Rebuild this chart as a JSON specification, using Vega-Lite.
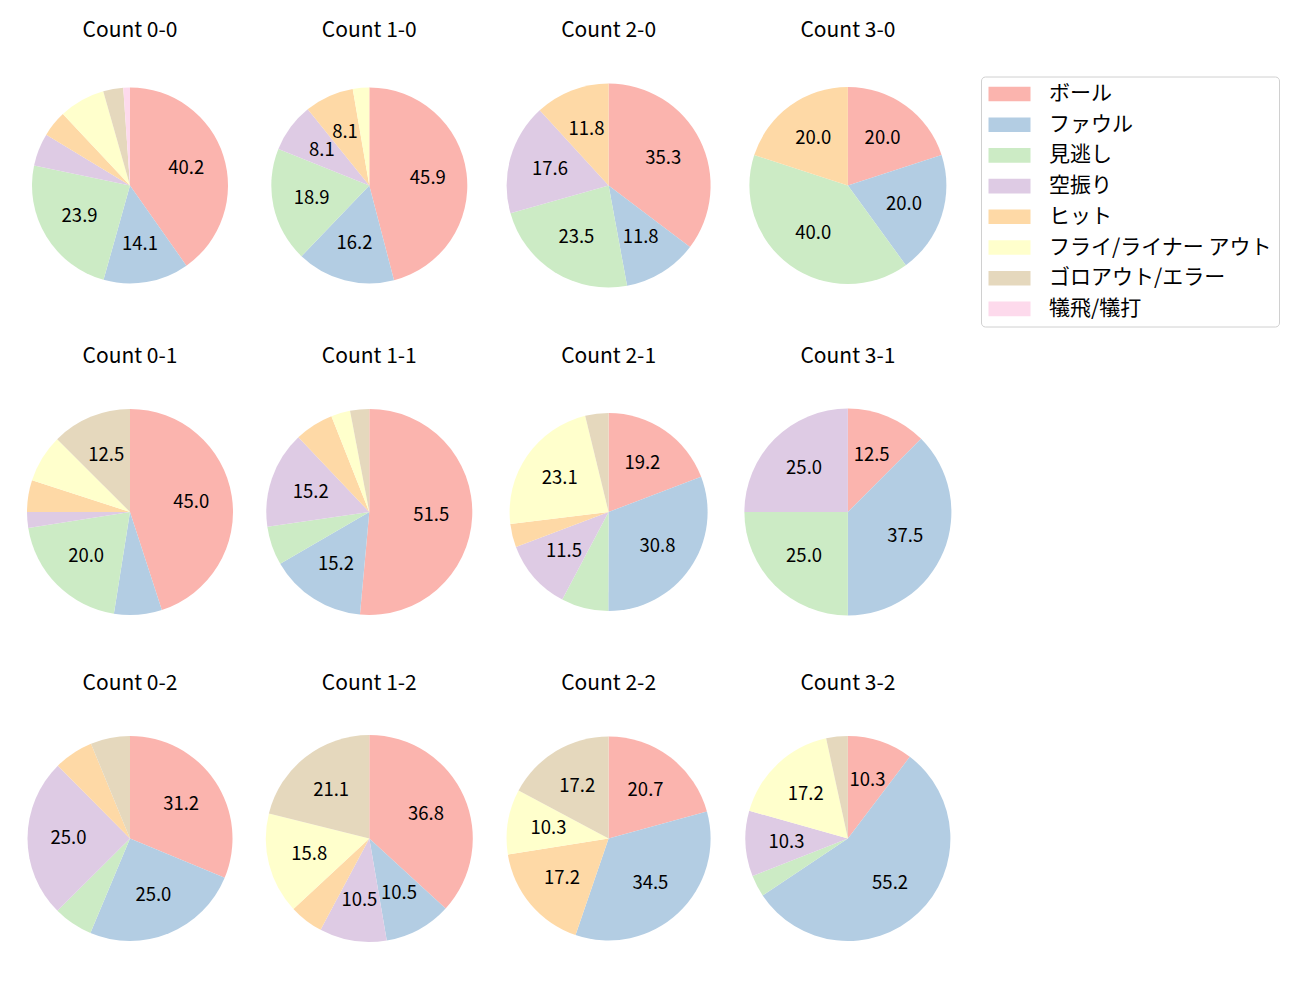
{
  "$schema": "https://vega.github.io/schema/vega-lite/v6.json",
  "padding": {"left": 25, "top": 19.5, "right": 0, "bottom": 0},
  "background": "white",
  "data": {"values": [
    {"c": "0-0", "k": 0, "cat": "ボール", "p": 40.2},
    {"c": "0-0", "k": 1, "cat": "ファウル", "p": 14.1},
    {"c": "0-0", "k": 2, "cat": "見逃し", "p": 23.9},
    {"c": "0-0", "k": 3, "cat": "空振り", "p": 5.4},
    {"c": "0-0", "k": 4, "cat": "ヒット", "p": 4.3},
    {"c": "0-0", "k": 5, "cat": "フライ/ライナー アウト", "p": 7.6},
    {"c": "0-0", "k": 6, "cat": "ゴロアウト/エラー", "p": 3.3},
    {"c": "0-0", "k": 7, "cat": "犠飛/犠打", "p": 1.1},
    {"c": "1-0", "k": 0, "cat": "ボール", "p": 45.9},
    {"c": "1-0", "k": 1, "cat": "ファウル", "p": 16.2},
    {"c": "1-0", "k": 2, "cat": "見逃し", "p": 18.9},
    {"c": "1-0", "k": 3, "cat": "空振り", "p": 8.1},
    {"c": "1-0", "k": 4, "cat": "ヒット", "p": 8.1},
    {"c": "1-0", "k": 5, "cat": "フライ/ライナー アウト", "p": 2.7},
    {"c": "2-0", "k": 0, "cat": "ボール", "p": 35.3},
    {"c": "2-0", "k": 1, "cat": "ファウル", "p": 11.8},
    {"c": "2-0", "k": 2, "cat": "見逃し", "p": 23.5},
    {"c": "2-0", "k": 3, "cat": "空振り", "p": 17.6},
    {"c": "2-0", "k": 4, "cat": "ヒット", "p": 11.8},
    {"c": "3-0", "k": 0, "cat": "ボール", "p": 20.0},
    {"c": "3-0", "k": 1, "cat": "ファウル", "p": 20.0},
    {"c": "3-0", "k": 2, "cat": "見逃し", "p": 40.0},
    {"c": "3-0", "k": 4, "cat": "ヒット", "p": 20.0},
    {"c": "0-1", "k": 0, "cat": "ボール", "p": 45.0},
    {"c": "0-1", "k": 1, "cat": "ファウル", "p": 7.5},
    {"c": "0-1", "k": 2, "cat": "見逃し", "p": 20.0},
    {"c": "0-1", "k": 3, "cat": "空振り", "p": 2.5},
    {"c": "0-1", "k": 4, "cat": "ヒット", "p": 5.0},
    {"c": "0-1", "k": 5, "cat": "フライ/ライナー アウト", "p": 7.5},
    {"c": "0-1", "k": 6, "cat": "ゴロアウト/エラー", "p": 12.5},
    {"c": "1-1", "k": 0, "cat": "ボール", "p": 51.5},
    {"c": "1-1", "k": 1, "cat": "ファウル", "p": 15.2},
    {"c": "1-1", "k": 2, "cat": "見逃し", "p": 6.1},
    {"c": "1-1", "k": 3, "cat": "空振り", "p": 15.2},
    {"c": "1-1", "k": 4, "cat": "ヒット", "p": 6.1},
    {"c": "1-1", "k": 5, "cat": "フライ/ライナー アウト", "p": 3.0},
    {"c": "1-1", "k": 6, "cat": "ゴロアウト/エラー", "p": 3.0},
    {"c": "2-1", "k": 0, "cat": "ボール", "p": 19.2},
    {"c": "2-1", "k": 1, "cat": "ファウル", "p": 30.8},
    {"c": "2-1", "k": 2, "cat": "見逃し", "p": 7.7},
    {"c": "2-1", "k": 3, "cat": "空振り", "p": 11.5},
    {"c": "2-1", "k": 4, "cat": "ヒット", "p": 3.8},
    {"c": "2-1", "k": 5, "cat": "フライ/ライナー アウト", "p": 23.1},
    {"c": "2-1", "k": 6, "cat": "ゴロアウト/エラー", "p": 3.8},
    {"c": "3-1", "k": 0, "cat": "ボール", "p": 12.5},
    {"c": "3-1", "k": 1, "cat": "ファウル", "p": 37.5},
    {"c": "3-1", "k": 2, "cat": "見逃し", "p": 25.0},
    {"c": "3-1", "k": 3, "cat": "空振り", "p": 25.0},
    {"c": "0-2", "k": 0, "cat": "ボール", "p": 31.2},
    {"c": "0-2", "k": 1, "cat": "ファウル", "p": 25.0},
    {"c": "0-2", "k": 2, "cat": "見逃し", "p": 6.2},
    {"c": "0-2", "k": 3, "cat": "空振り", "p": 25.0},
    {"c": "0-2", "k": 4, "cat": "ヒット", "p": 6.2},
    {"c": "0-2", "k": 6, "cat": "ゴロアウト/エラー", "p": 6.2},
    {"c": "1-2", "k": 0, "cat": "ボール", "p": 36.8},
    {"c": "1-2", "k": 1, "cat": "ファウル", "p": 10.5},
    {"c": "1-2", "k": 3, "cat": "空振り", "p": 10.5},
    {"c": "1-2", "k": 4, "cat": "ヒット", "p": 5.3},
    {"c": "1-2", "k": 5, "cat": "フライ/ライナー アウト", "p": 15.8},
    {"c": "1-2", "k": 6, "cat": "ゴロアウト/エラー", "p": 21.1},
    {"c": "2-2", "k": 0, "cat": "ボール", "p": 20.7},
    {"c": "2-2", "k": 1, "cat": "ファウル", "p": 34.5},
    {"c": "2-2", "k": 4, "cat": "ヒット", "p": 17.2},
    {"c": "2-2", "k": 5, "cat": "フライ/ライナー アウト", "p": 10.3},
    {"c": "2-2", "k": 6, "cat": "ゴロアウト/エラー", "p": 17.2},
    {"c": "3-2", "k": 0, "cat": "ボール", "p": 10.3},
    {"c": "3-2", "k": 1, "cat": "ファウル", "p": 55.2},
    {"c": "3-2", "k": 2, "cat": "見逃し", "p": 3.4},
    {"c": "3-2", "k": 3, "cat": "空振り", "p": 10.3},
    {"c": "3-2", "k": 5, "cat": "フライ/ライナー アウト", "p": 17.2},
    {"c": "3-2", "k": 6, "cat": "ゴロアウト/エラー", "p": 3.4}
  ]},
  "config": {
    "font": "Noto Sans CJK JP",
    "view": {"stroke": null},
    "concat": {"spacing": 55.5},
    "title": {"fontSize": 21, "fontWeight": "normal", "font": "Noto Sans CJK JP", "color": "#000000", "offset": 40, "baseline": "alphabetic"},
    "legend": {
      "orient": "none",
      "legendX": 956,
      "legendY": -4,
      "title": null,
      "symbolType": "M-2.1,-0.73H2.1V0.73H-2.1Z",
      "symbolSize": 400,
      "symbolStrokeWidth": 0,
      "symbolOpacity": 1,
      "symbolOffset": 11,
      "labelOffset": 29,
      "labelFontSize": 21,
      "labelFont": "Noto Sans CJK JP",
      "labelColor": "#000000",
      "labelLimit": 400,
      "rowPadding": 8.7,
      "padding": 7,
      "strokeColor": "#d0d0d0",
      "fillColor": "#ffffff",
      "cornerRadius": 4
    }
  },
  "vconcat": [
    {"spacing": 29.3, "hconcat": [
      {"title": "Count 0-0", "width": 210, "height": 210, "transform": [{"filter": "datum.c == '0-0'"}], "encoding": {"theta": {"field": "p", "type": "quantitative", "stack": true}, "order": {"field": "k", "type": "quantitative"}}, "layer": [
        {"mark": {"type": "arc", "outerRadius": 98}, "encoding": {"color": {"field": "cat", "type": "nominal", "scale": {"domain": ["ボール", "ファウル", "見逃し", "空振り", "ヒット", "フライ/ライナー アウト", "ゴロアウト/エラー", "犠飛/犠打"], "range": ["#fbb4ae", "#b3cde3", "#ccebc5", "#decbe4", "#fed9a6", "#ffffcc", "#e5d8bd", "#fddaec"]}}}},
        {"mark": {"type": "text", "radius": 59, "fontSize": 18.5, "color": "#000000"}, "encoding": {"text": {"field": "p", "format": ".1f"}, "opacity": {"condition": {"test": "datum.p >= 8", "value": 1}, "value": 0}}}
      ]},
      {"title": "Count 1-0", "width": 210, "height": 210, "transform": [{"filter": "datum.c == '1-0'"}], "encoding": {"theta": {"field": "p", "type": "quantitative", "stack": true}, "order": {"field": "k", "type": "quantitative"}}, "layer": [
        {"mark": {"type": "arc", "outerRadius": 98}, "encoding": {"color": {"field": "cat", "type": "nominal"}}},
        {"mark": {"type": "text", "radius": 59, "fontSize": 18.5, "color": "#000000"}, "encoding": {"text": {"field": "p", "format": ".1f"}, "opacity": {"condition": {"test": "datum.p >= 8", "value": 1}, "value": 0}}}
      ]},
      {"title": "Count 2-0", "width": 210, "height": 210, "transform": [{"filter": "datum.c == '2-0'"}], "encoding": {"theta": {"field": "p", "type": "quantitative", "stack": true}, "order": {"field": "k", "type": "quantitative"}}, "layer": [
        {"mark": {"type": "arc", "outerRadius": 102}, "encoding": {"color": {"field": "cat", "type": "nominal"}}},
        {"mark": {"type": "text", "radius": 61, "fontSize": 18.5, "color": "#000000"}, "encoding": {"text": {"field": "p", "format": ".1f"}, "opacity": {"condition": {"test": "datum.p >= 8", "value": 1}, "value": 0}}}
      ]},
      {"title": "Count 3-0", "width": 210, "height": 210, "transform": [{"filter": "datum.c == '3-0'"}], "encoding": {"theta": {"field": "p", "type": "quantitative", "stack": true}, "order": {"field": "k", "type": "quantitative"}}, "layer": [
        {"mark": {"type": "arc", "outerRadius": 98.5}, "encoding": {"color": {"field": "cat", "type": "nominal"}}},
        {"mark": {"type": "text", "radius": 59, "fontSize": 18.5, "color": "#000000"}, "encoding": {"text": {"field": "p", "format": ".1f"}, "opacity": {"condition": {"test": "datum.p >= 8", "value": 1}, "value": 0}}}
      ]}
    ]},
    {"spacing": 29.3, "hconcat": [
      {"title": "Count 0-1", "width": 210, "height": 210, "transform": [{"filter": "datum.c == '0-1'"}], "encoding": {"theta": {"field": "p", "type": "quantitative", "stack": true}, "order": {"field": "k", "type": "quantitative"}}, "layer": [
        {"mark": {"type": "arc", "outerRadius": 103}, "encoding": {"color": {"field": "cat", "type": "nominal"}}},
        {"mark": {"type": "text", "radius": 62, "fontSize": 18.5, "color": "#000000"}, "encoding": {"text": {"field": "p", "format": ".1f"}, "opacity": {"condition": {"test": "datum.p >= 8", "value": 1}, "value": 0}}}
      ]},
      {"title": "Count 1-1", "width": 210, "height": 210, "transform": [{"filter": "datum.c == '1-1'"}], "encoding": {"theta": {"field": "p", "type": "quantitative", "stack": true}, "order": {"field": "k", "type": "quantitative"}}, "layer": [
        {"mark": {"type": "arc", "outerRadius": 103}, "encoding": {"color": {"field": "cat", "type": "nominal"}}},
        {"mark": {"type": "text", "radius": 62, "fontSize": 18.5, "color": "#000000"}, "encoding": {"text": {"field": "p", "format": ".1f"}, "opacity": {"condition": {"test": "datum.p >= 8", "value": 1}, "value": 0}}}
      ]},
      {"title": "Count 2-1", "width": 210, "height": 210, "transform": [{"filter": "datum.c == '2-1'"}], "encoding": {"theta": {"field": "p", "type": "quantitative", "stack": true}, "order": {"field": "k", "type": "quantitative"}}, "layer": [
        {"mark": {"type": "arc", "outerRadius": 99}, "encoding": {"color": {"field": "cat", "type": "nominal"}}},
        {"mark": {"type": "text", "radius": 59.5, "fontSize": 18.5, "color": "#000000"}, "encoding": {"text": {"field": "p", "format": ".1f"}, "opacity": {"condition": {"test": "datum.p >= 8", "value": 1}, "value": 0}}}
      ]},
      {"title": "Count 3-1", "width": 210, "height": 210, "transform": [{"filter": "datum.c == '3-1'"}], "encoding": {"theta": {"field": "p", "type": "quantitative", "stack": true}, "order": {"field": "k", "type": "quantitative"}}, "layer": [
        {"mark": {"type": "arc", "outerRadius": 103.5}, "encoding": {"color": {"field": "cat", "type": "nominal"}}},
        {"mark": {"type": "text", "radius": 62, "fontSize": 18.5, "color": "#000000"}, "encoding": {"text": {"field": "p", "format": ".1f"}, "opacity": {"condition": {"test": "datum.p >= 8", "value": 1}, "value": 0}}}
      ]}
    ]},
    {"spacing": 29.3, "hconcat": [
      {"title": "Count 0-2", "width": 210, "height": 210, "transform": [{"filter": "datum.c == '0-2'"}], "encoding": {"theta": {"field": "p", "type": "quantitative", "stack": true}, "order": {"field": "k", "type": "quantitative"}}, "layer": [
        {"mark": {"type": "arc", "outerRadius": 102.5}, "encoding": {"color": {"field": "cat", "type": "nominal"}}},
        {"mark": {"type": "text", "radius": 61.5, "fontSize": 18.5, "color": "#000000"}, "encoding": {"text": {"field": "p", "format": ".1f"}, "opacity": {"condition": {"test": "datum.p >= 8", "value": 1}, "value": 0}}}
      ]},
      {"title": "Count 1-2", "width": 210, "height": 210, "transform": [{"filter": "datum.c == '1-2'"}], "encoding": {"theta": {"field": "p", "type": "quantitative", "stack": true}, "order": {"field": "k", "type": "quantitative"}}, "layer": [
        {"mark": {"type": "arc", "outerRadius": 103.5}, "encoding": {"color": {"field": "cat", "type": "nominal"}}},
        {"mark": {"type": "text", "radius": 62, "fontSize": 18.5, "color": "#000000"}, "encoding": {"text": {"field": "p", "format": ".1f"}, "opacity": {"condition": {"test": "datum.p >= 8", "value": 1}, "value": 0}}}
      ]},
      {"title": "Count 2-2", "width": 210, "height": 210, "transform": [{"filter": "datum.c == '2-2'"}], "encoding": {"theta": {"field": "p", "type": "quantitative", "stack": true}, "order": {"field": "k", "type": "quantitative"}}, "layer": [
        {"mark": {"type": "arc", "outerRadius": 102}, "encoding": {"color": {"field": "cat", "type": "nominal"}}},
        {"mark": {"type": "text", "radius": 61, "fontSize": 18.5, "color": "#000000"}, "encoding": {"text": {"field": "p", "format": ".1f"}, "opacity": {"condition": {"test": "datum.p >= 8", "value": 1}, "value": 0}}}
      ]},
      {"title": "Count 3-2", "width": 210, "height": 210, "transform": [{"filter": "datum.c == '3-2'"}], "encoding": {"theta": {"field": "p", "type": "quantitative", "stack": true}, "order": {"field": "k", "type": "quantitative"}}, "layer": [
        {"mark": {"type": "arc", "outerRadius": 102.5}, "encoding": {"color": {"field": "cat", "type": "nominal"}}},
        {"mark": {"type": "text", "radius": 61.5, "fontSize": 18.5, "color": "#000000"}, "encoding": {"text": {"field": "p", "format": ".1f"}, "opacity": {"condition": {"test": "datum.p >= 8", "value": 1}, "value": 0}}}
      ]}
    ]}
  ]
}
